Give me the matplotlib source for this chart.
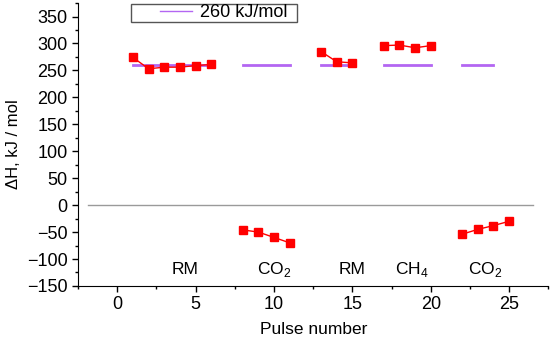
import matplotlib.pyplot as plt
from matplotlib.ticker import MultipleLocator
from matplotlib.lines import Line2D
from matplotlib.patches import Rectangle

plt.rcParams['font.family'] = ['Liberation Sans', 'DejaVu Sans']
plt.rcParams['mathtext.fontset'] = 'custom'
plt.rcParams['mathtext.rm'] = 'Liberation Sans'

# measured enthalpy per pulse, one list per pulse series
pulses = [
    [1, 2, 3, 4, 5, 6],
    [8, 9, 10, 11],
    [13, 14, 15],
    [17, 18, 19, 20],
    [22, 23, 24, 25],
]
dh = [
    [274, 253, 256, 256, 259, 261],
    [-46, -50, -60, -70],
    [285, 266, 264],
    [296, 297, 292, 296],
    [-54, -45, -38, -30],
]

# 260 kJ/mol reference segments
ref_value = 260
ref_spans = [(1, 6), (8, 11), (13, 15), (17, 20), (22, 24)]

# gas labels under the series
gas_labels = ['RM', r'CO$_\mathregular{2}$', 'RM', r'CH$_\mathregular{4}$', r'CO$_\mathregular{2}$']
gas_x = [4.3, 10.0, 15.0, 18.8, 23.5]

fig = plt.figure(figsize=(5.5, 3.38), dpi=100)
ax = fig.add_axes([0.142, 0.154, 0.855, 0.837])

purple = '#b366f2'
ax.plot([-1.9, 26.5], [0, 0], color='#9a9a9a', lw=1)
for a, b in ref_spans:
    ax.plot([a, b], [ref_value, ref_value], color=purple, lw=2)
for x, y in zip(pulses, dh):
    ax.plot(x, y, color='red', lw=1, marker='s', ms=5.5)

for x, lab in zip(gas_x, gas_labels):
    ax.text(x, -120, lab, ha='center', va='center', fontsize=12.5)

ax.set_xlim(-2.5, 27.5)
ax.set_ylim(-150, 375)
ax.xaxis.set_major_locator(MultipleLocator(5))
ax.xaxis.set_minor_locator(MultipleLocator(2.5))
ax.yaxis.set_minor_locator(MultipleLocator(25))
ax.set_yticks(range(-150, 351, 50))
ax.tick_params(direction='out', labelsize=13, length=4.5, width=1, pad=3)
ax.tick_params(which='minor', direction='out', length=2.5, width=1)
for s in ['top', 'right']:
    ax.spines[s].set_visible(False)

ax.set_xlabel('Pulse number', fontsize=12.5, labelpad=6)
ax.set_ylabel('ΔH, kJ / mol', fontsize=12, labelpad=4)

# legend: frameless entry plus a wide rectangular box like the original
handle = Line2D([], [], color=purple, lw=1)
ax.legend([handle], ['260 kJ/mol'], loc='center left', bbox_to_anchor=(0.174, 0.965),
          frameon=False, fontsize=13, handlelength=1.8, handletextpad=0.4,
          borderpad=0, borderaxespad=0)
ax.add_patch(Rectangle((0.113, 0.933), 0.353, 0.063, transform=ax.transAxes,
                       fill=False, edgecolor='#555555', lw=1, clip_on=False))

fig.savefig('out.png', dpi=100)
